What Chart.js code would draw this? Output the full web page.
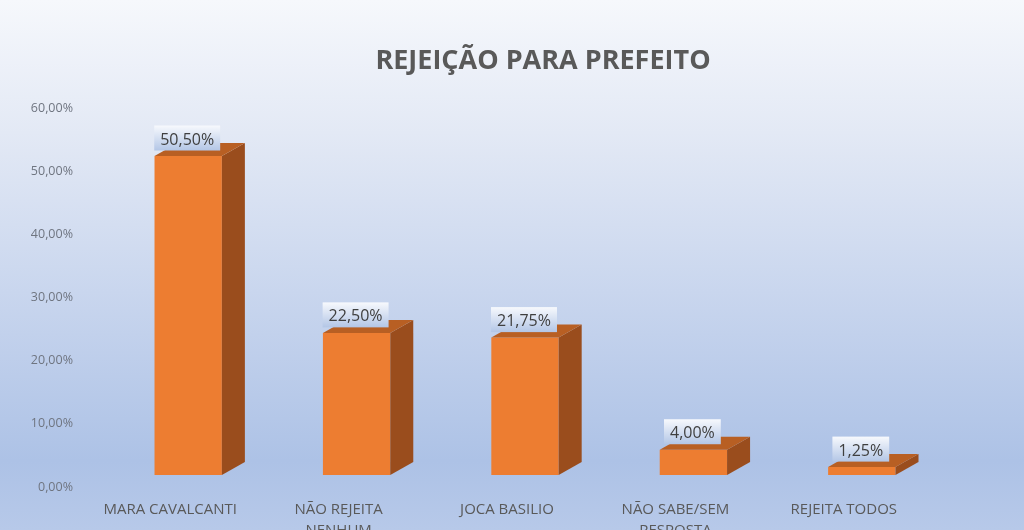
<!DOCTYPE html>
<html>
<head>
<meta charset="utf-8">
<script src="https://cdn.jsdelivr.net/npm/chart.js@4.4.1/dist/chart.umd.min.js"></script>
<style>
  html, body { margin: 0; padding: 0; }
  #chart {
    display: block;
    background: linear-gradient(#f6f8fc 0%, #e3e9f5 25%, #c9d6ee 55%, #adc2e6 87%, #b7c9e9 100%);
  }
</style>
</head>
<body>
<canvas id="chart" width="1024" height="530"></canvas>
<script>
var chartTitle = 'REJEIÇÃO PARA PREFEITO';
var categories = ["MARA CAVALCANTI", ["NÃO REJEITA", "NENHUM"], "JOCA BASILIO", ["NÃO SABE/SEM", "RESPOSTA"], "REJEITA TODOS"];
var rejeicao = [50.50, 22.50, 21.75, 4.00, 1.25];
var yTicks = [0, 10, 20, 30, 40, 50, 60];

function pct(v) {
    return v.toFixed(2).replace('.', ',') + '%';
}

// title is drawn by hand, it sits off-centre in the original
var titlePlugin = {
    id: 'titlePlugin',
    afterDraw: function (chart) {
        var ctx = chart.ctx;
        ctx.save();
        ctx.font = 'bold 27px "Open Sans"';
        ctx.fillStyle = '#595959';
        ctx.textAlign = 'center';
        ctx.textBaseline = 'middle';
        ctx.fillText(chartTitle, 543, 61);
        ctx.restore();
    }
};

// fake 3d: side and top faces of every bar, then the value boxes
var bars3d = {
    id: 'bars3d',
    afterDatasetsDraw: function (chart) {
        var ctx = chart.ctx;
        var dx = 23, dy = 13;
        var meta = chart.getDatasetMeta(0);
        ctx.save();
        meta.data.forEach(function (bar, i) {
            var p = bar.getProps(['x', 'y', 'base', 'width'], true);
            var l = p.x - p.width / 2, r = p.x + p.width / 2;
            // side
            ctx.fillStyle = '#9a4d1d';
            ctx.beginPath();
            ctx.moveTo(r, p.y);
            ctx.lineTo(r + dx, p.y - dy);
            ctx.lineTo(r + dx, p.base - dy);
            ctx.lineTo(r, p.base);
            ctx.closePath();
            ctx.fill();
            // top
            ctx.fillStyle = '#b85f23';
            ctx.beginPath();
            ctx.moveTo(l, p.y);
            ctx.lineTo(l + dx, p.y - dy);
            ctx.lineTo(r + dx, p.y - dy);
            ctx.lineTo(r, p.y);
            ctx.closePath();
            ctx.fill();
        });
        meta.data.forEach(function (bar, i) {
            var p = bar.getProps(['x', 'y'], true);
            var txt = pct(rejeicao[i]);
            ctx.font = '16px "Open Sans"';
            var w = ctx.measureText(txt).width + 12, h = 25;
            var cx = p.x - 1, cy = p.y - 18;
            var g = ctx.createLinearGradient(0, cy - h / 2, 0, cy + h / 2);
            g.addColorStop(0, '#f7f9fd');
            g.addColorStop(1, '#b3c6e6');
            ctx.fillStyle = g;
            ctx.fillRect(cx - w / 2, cy - h / 2, w, h);
            ctx.fillStyle = '#3f3f3f';
            ctx.textAlign = 'center';
            ctx.textBaseline = 'middle';
            ctx.fillText(txt, cx, cy + 2);
        });
        ctx.restore();
    }
};

var ctx = document.getElementById('chart').getContext('2d');
new Chart(ctx, {
    type: 'bar',
    data: {
        labels: categories,
        datasets: [{
            data: rejeicao,
            backgroundColor: '#ed7d31',
            borderWidth: 0,
            barPercentage: 0.8,
            categoryPercentage: 0.5
        }]
    },
    options: {
        responsive: false,
        animation: false,
        layout: { padding: { left: 0, right: 78, top: 96, bottom: 0 } },
        plugins: {
            legend: { display: false },
            tooltip: { enabled: false },
            title: { display: false }
        },
        scales: {
            x: {
                grid: { display: false },
                border: { display: false },
                ticks: {
                    color: '#595959',
                    font: { family: 'Open Sans', size: 15, lineHeight: 1.35 },
                    padding: 17,
                    labelOffset: -18,
                    maxRotation: 0,
                    autoSkip: false
                },
                afterFit: function (s) { s.height = 55; }
            },
            y: {
                min: 0,
                max: 60,
                grid: { display: false },
                border: { display: false },
                afterBuildTicks: function (s) {
                    s.ticks = yTicks.map(function (v) { return { value: v }; });
                },
                ticks: {
                    color: '#6f7580',
                    font: { family: 'Open Sans', size: 12.5 },
                    padding: 23,
                    labelOffset: 12,
                    callback: function (v) { return pct(v); }
                },
                afterFit: function (s) { s.width = 104; }
            }
        }
    },
    plugins: [bars3d, titlePlugin]
});
</script>
</body>
</html>
